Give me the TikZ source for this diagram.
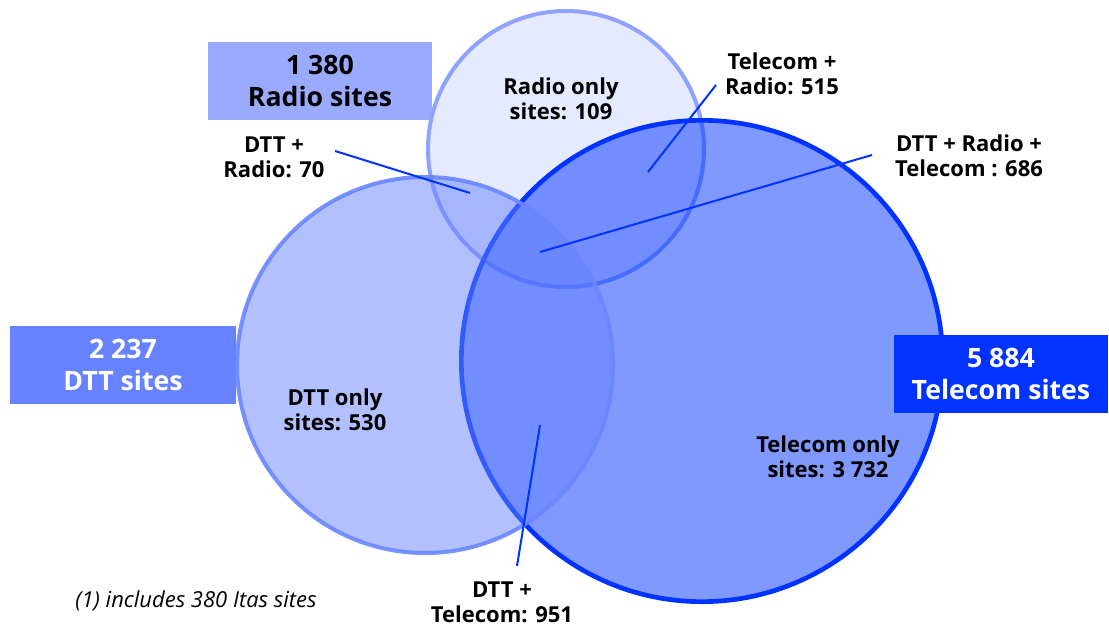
\documentclass[tikz,border=0pt]{standalone}
\usepackage{fontspec}
\setmainfont{Open Sans}
\usepackage{xcolor}
\usepackage{tikz}
\usetikzlibrary{positioning, calc}
\definecolor{teleblue}{HTML}{0033FF}
\definecolor{dttblue}{HTML}{6682FF}
\definecolor{radioblue}{HTML}{99AAFF}
\definecolor{radioedge}{HTML}{8FA2FF}
\definecolor{dttedge}{HTML}{6A86FF}

\begin{document}
\begin{tikzpicture}[x=0.75pt, y=-0.75pt,
    total/.style={inner sep=0pt, align=center, font=\fontsize{20}{24}\selectfont\bfseries},
    set/.style={circle, inner sep=0pt},
    count/.style={align=center, font=\fontsize{16.5}{18.5}\selectfont\bfseries},
    leader/.style={draw=teleblue, line width=1.5pt}]
    \useasboundingbox (0,0) rectangle (1109,627);

    % totals per network
    \node[total, fill=radioblue, minimum width=168pt, minimum height=59pt] (radiobox) at (320,81) {1 380\\Radio sites};
    \node[total, fill=dttblue, text=white, minimum width=170pt, minimum height=59pt] (dttbox) at (123,365) {2 237\\DTT sites};

    % the three sets
    \node[set, minimum size=207pt, fill=radioblue, fill opacity=0.25, draw=radioedge, draw opacity=1, line width=3pt] (radio) at (566,149) {};
    \node[set, minimum size=361pt, fill=teleblue, fill opacity=0.5, draw=teleblue, draw opacity=1, line width=3.5pt] (telecom) at (702,361) {};
    \node[set, minimum size=282pt, fill=dttblue, fill opacity=0.5, draw=dttedge, draw opacity=0.9, line width=3pt] (dtt) at (425,365) {};

    \node[total, fill=teleblue, text=white, minimum width=160pt, minimum height=58.5pt] (telebox) at (1001,374) {5 884\\Telecom sites};

    % counts
    \node[count] (radioonly) at (561,99) {Radio only\\sites: 109};
    \node[count] (dttonly) at (335,410) {DTT only\\sites: 530};
    \node[count] (teleonly) at (828,457) {Telecom only\\sites: 3 732};
    \node[count] (dttradio) at (274,157) {DTT +\\Radio: 70};
    \node[count] (teleradio) at (782,74) {Telecom +\\Radio: 515};
    \node[count] (allthree) at (969,156) {DTT + Radio +\\Telecom : 686};
    \node[count] (dtttele) at (502,602) {DTT +\\Telecom: 951};

    % leader lines
    \coordinate (dttradio-a) at (335,151);
    \coordinate (dttradio-b) at (470,193);
    \coordinate (teleradio-a) at (716,85);
    \coordinate (teleradio-b) at (648,172);
    \coordinate (allthree-a) at (872,155);
    \coordinate (allthree-b) at (540,252);
    \coordinate (dtttele-a) at (540,425);
    \coordinate (dtttele-b) at (517,566);
    \draw[leader] (dttradio-a) -- (dttradio-b);
    \draw[leader] (teleradio-a) -- (teleradio-b);
    \draw[leader] (allthree-a) -- (allthree-b);
    \draw[leader] (dtttele-a) -- (dtttele-b);

    \node[font=\fontsize{16.5}{20}\selectfont\itshape] (note) at (196,601) {(1) includes 380 Itas sites};
\end{tikzpicture}
\end{document}
